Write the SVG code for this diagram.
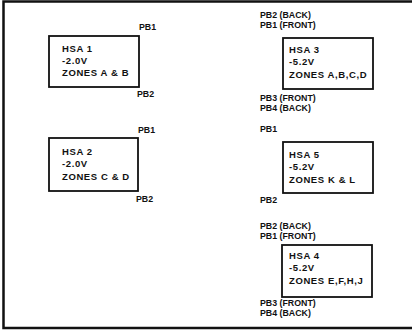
<svg xmlns="http://www.w3.org/2000/svg" width="412" height="332" viewBox="0 0 412 332">
<style>
text{font-family:"Liberation Sans",Arial,sans-serif;font-weight:bold;fill:#111}
.t{font-size:9.5px;letter-spacing:0.6px}
.l{font-size:8.8px}
.box{fill:#fff;stroke:#111;stroke-width:1.8}
.frame{fill:none;stroke:#111;stroke-width:2.5}
</style>
<rect width="412" height="332" fill="#fff"/>
<path class="frame" d="M412,1.5 H3.5 V328 H412"/>
<g id="hsa1">
<rect class="box" x="49" y="36" width="90" height="51"/>
<text class="t" x="62" y="52">HSA 1</text>
<text class="t" x="62" y="64">-2.0V</text>
<text class="t" x="62" y="76">ZONES A &amp; B</text>
<text class="l" x="139" y="30">PB1</text>
<text class="l" x="137" y="97">PB2</text>
</g>
<g id="hsa2">
<rect class="box" x="49" y="138" width="89" height="53"/>
<text class="t" x="62" y="155">HSA 2</text>
<text class="t" x="62" y="167">-2.0V</text>
<text class="t" x="62" y="180">ZONES C &amp; D</text>
<text class="l" x="138" y="133">PB1</text>
<text class="l" x="136" y="202">PB2</text>
</g>
<g id="hsa3">
<rect class="box" x="283" y="38" width="90" height="51"/>
<text class="t" x="289" y="53">HSA 3</text>
<text class="t" x="289" y="65">-5.2V</text>
<text class="t" x="289" y="78">ZONES A,B,C,D</text>
<text class="l" x="260" y="18">PB2 (BACK)</text>
<text class="l" x="260" y="28">PB1 (FRONT)</text>
<text class="l" x="260" y="101">PB3 (FRONT)</text>
<text class="l" x="260" y="111">PB4 (BACK)</text>
</g>
<g id="hsa5">
<rect class="box" x="283" y="142" width="90" height="51"/>
<text class="t" x="289" y="158">HSA 5</text>
<text class="t" x="289" y="170">-5.2V</text>
<text class="t" x="289" y="183">ZONES K &amp; L</text>
<text class="l" x="260" y="132">PB1</text>
<text class="l" x="260" y="203">PB2</text>
</g>
<g id="hsa4">
<rect class="box" x="282" y="245" width="90" height="52"/>
<text class="t" x="289" y="259">HSA 4</text>
<text class="t" x="289" y="271">-5.2V</text>
<text class="t" x="289" y="284">ZONES E,F,H,J</text>
<text class="l" x="260" y="229">PB2 (BACK)</text>
<text class="l" x="260" y="239">PB1 (FRONT)</text>
<text class="l" x="260" y="306">PB3 (FRONT)</text>
<text class="l" x="260" y="316">PB4 (BACK)</text>
</g>
<g id="connectors"/>
</svg>
